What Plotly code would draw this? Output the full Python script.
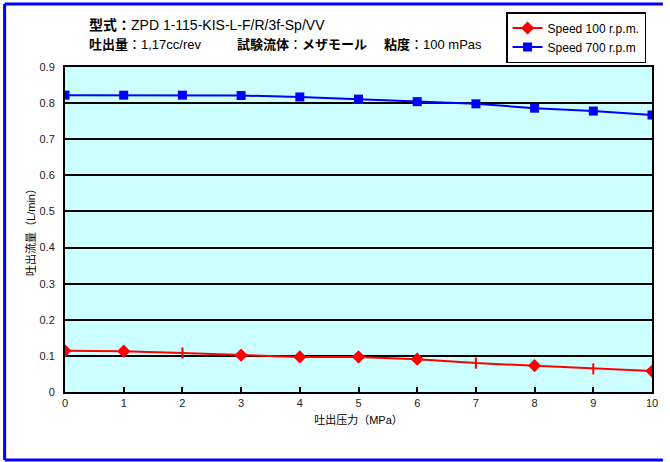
import plotly.graph_objects as go

pressure = [0, 1, 2, 3, 4, 5, 6, 7, 8, 9, 10]
flow_100 = [0.114, 0.113, 0.108, 0.102, 0.097, 0.097, 0.091, 0.080, 0.073, 0.064, 0.058]
flow_700 = [0.822, 0.822, 0.822, 0.821, 0.817, 0.811, 0.804, 0.798, 0.786, 0.778, 0.767]
series_names = ["Speed 100 r.p.m.", "Speed 700 r.p.m"]
x_ticks = list(range(0, 11))
y_ticks = [0, 0.1, 0.2, 0.3, 0.4, 0.5, 0.6, 0.7, 0.8, 0.9]
y_tick_labels = ["0", "0.1", "0.2", "0.3", "0.4", "0.5", "0.6", "0.7", "0.8", "0.9"]

FONT = "Arial, Liberation Sans, Noto Sans CJK JP, sans-serif"
red_symbols = ["diamond", "diamond", "line-ns", "diamond", "diamond", "diamond",
               "diamond", "line-ns", "diamond", "line-ns", "diamond"]

fig = go.Figure()
fig.add_trace(go.Scatter(
    x=pressure, y=flow_100, name=series_names[0], mode="lines+markers",
    line=dict(color="#FF0000", width=2),
    marker=dict(symbol=red_symbols, size=8, color="#FF0000",
                line=dict(color="#FF0000", width=2)),
))
fig.add_trace(go.Scatter(
    x=pressure, y=flow_700, name=series_names[1], mode="lines+markers",
    line=dict(color="#0000FF", width=2),
    marker=dict(symbol="square", size=9, color="#0000FF"),
))

fig.update_layout(
    width=670, height=462,
    margin=dict(l=65, r=12, t=67, b=70),
    paper_bgcolor="white",
    plot_bgcolor="#CCFFFF",
    font=dict(family=FONT, size=11, color="#222222"),
    showlegend=True,
    legend=dict(
        x=(652 - 65) / 593, y=(392 - 12) / 325, xanchor="right", yanchor="top",
        bgcolor="white", bordercolor="black", borderwidth=1.5,
        font=dict(family=FONT, size=12, color="black"),
        tracegroupgap=0, itemwidth=30,
    ),
    hovermode=False,
)
fig.update_xaxes(
    range=[0, 10], tickvals=x_ticks, ticktext=[str(v) for v in x_ticks],
    showgrid=False, zeroline=False,
    showline=True, linecolor="black", linewidth=2, mirror=True,
    ticks="inside", ticklen=5, tickwidth=2, tickcolor="black",
    title=dict(text="吐出压力（MPa）", font=dict(size=11, color="black"), standoff=8),
    tickfont=dict(size=11, color="#222222"),
)
fig.update_yaxes(
    range=[0, 0.9], tickvals=y_ticks, ticktext=y_tick_labels,
    showgrid=True, gridcolor="black", gridwidth=1.5, zeroline=False,
    showline=True, linecolor="black", linewidth=2, mirror=True,
    ticks="", ticklabelstandoff=6,
    title=dict(text="吐出流量（L/min）", font=dict(size=11, color="black"), standoff=2),
    tickfont=dict(size=11, color="#222222"),
)

def px_x(p):
    return (p - 65) / 593

def px_y(p):
    return (392 - p) / 325

anns = [
    ("<b>型式：</b>ZPD 1-115-KIS-L-F/R/3f-Sp/VV", 87, 25, 14),
    ("<b>吐出量</b>：1,17cc/rev", 87, 44, 13),
    ("<b>試験流体</b>：<b>メザモール</b>", 237, 44, 13),
    ("<b>粘度</b>：100 mPas", 385, 44, 13),
]
for text, xp, yp, sz in anns:
    fig.add_annotation(
        text=text, xref="paper", yref="paper", x=px_x(xp), y=px_y(yp),
        xanchor="left", yanchor="middle", showarrow=False,
        font=dict(family=FONT, size=sz, color="black"),
    )

# outer blue frame
for x0, y0, x1, y1 in [(4, 4, 4, 460), (4, 4, 669, 4), (4, 460, 669, 460)]:
    fig.add_shape(type="line", xref="paper", yref="paper",
                  x0=px_x(x0), y0=px_y(y0), x1=px_x(x1), y1=px_y(y1),
                  line=dict(color="#0000FF", width=3))

fig.write_html("out.html", config={"displayModeBar": False},
               post_script="document.body.style.margin='0';")
